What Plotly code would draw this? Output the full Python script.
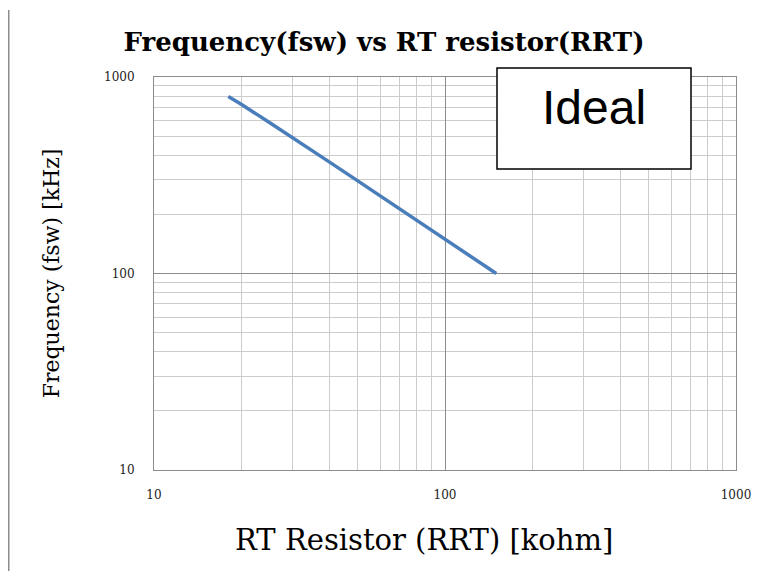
import plotly.graph_objects as go

# Data (RT resistor in kohm vs switching frequency in kHz)
rrt_kohm = [18, 20, 25, 30, 40, 50, 60, 75, 100, 120, 150]
fsw_khz = [795, 725, 585, 492, 370, 297, 248, 198, 149, 124, 100]

title_text = "Frequency(fsw) vs RT resistor(RRT)"
x_title = "RT Resistor (RRT) [kohm]"
y_title = "Frequency (fsw) [kHz]"
box_label = "Ideal"
tick_vals = [10, 100, 1000]
tick_text = ["10", "100", "1000"]

OFF = 8  # page body margin
W, H = 774 - OFF, 571 - OFF
# plot area in window coords: x 154..736, y 77..470
L = 154 - OFF
T = 77 - OFF
R = W - (736 - OFF)
B = H - (470 - OFF)
pw, ph = W - L - R, H - T - B


def px(xw):
    return (xw - OFF - L) / pw


def py(yw):
    return (H - B - (yw - OFF)) / ph


serif = "DejaVu Serif, Liberation Serif, serif"

fig = go.Figure()
fig.add_trace(go.Scatter(
    x=rrt_kohm, y=fsw_khz, mode="lines",
    line=dict(color="#4a7ebb", width=3.5),
    showlegend=False, hoverinfo="skip",
))

axis_common = dict(
    type="log",
    range=[1, 3],
    tickvals=tick_vals,
    ticktext=tick_text,
    showgrid=True,
    gridcolor="#8c8c8c",
    gridwidth=1,
    minor=dict(showgrid=True, gridcolor="#cccccc", gridwidth=1, dtick="D1", ticks=""),
    showline=True,
    linecolor="#8c8c8c",
    linewidth=1,
    mirror=True,
    zeroline=False,
    ticks="",
    tickfont=dict(family=serif, size=12, color="#222222"),
)

fig.update_xaxes(**axis_common, ticklabelstandoff=14)
fig.update_yaxes(
    **axis_common,
    ticklabelstandoff=16,
    title=dict(text=y_title, font=dict(family=serif, size=22, color="black"), standoff=38),
)

fig.update_layout(
    width=W, height=H,
    margin=dict(l=L, r=R, t=T, b=B, autoexpand=False),
    paper_bgcolor="white",
    plot_bgcolor="white",
    title=dict(
        text="<b>" + title_text + "</b>",
        font=dict(family=serif, size=26, color="black"),
        xref="container", yref="container",
        x=(384 - OFF) / W, xanchor="center",
        y=1 - (42 - OFF) / H, yanchor="middle",
    ),
    shapes=[
        dict(type="rect", xref="paper", yref="paper",
             x0=px(497), x1=px(691), y0=py(169), y1=py(68),
             line=dict(color="black", width=1.5), fillcolor="white", layer="above"),
        dict(type="line", xref="paper", yref="paper",
             x0=px(8.5), x1=px(8.5), y0=py(10), y1=py(571),
             line=dict(color="#8c8c8c", width=2)),
    ],
    annotations=[
        dict(text=box_label, xref="paper", yref="paper",
             x=px(594), y=py(107), xanchor="center", yanchor="middle",
             showarrow=False,
             font=dict(family="Liberation Sans, Arial, sans-serif", size=48, color="black")),
        dict(text=x_title, xref="paper", yref="paper",
             x=px(424), y=py(540), xanchor="center", yanchor="middle",
             showarrow=False,
             font=dict(family=serif, size=29, color="black")),
    ],
)

fig.write_html("out.html")
